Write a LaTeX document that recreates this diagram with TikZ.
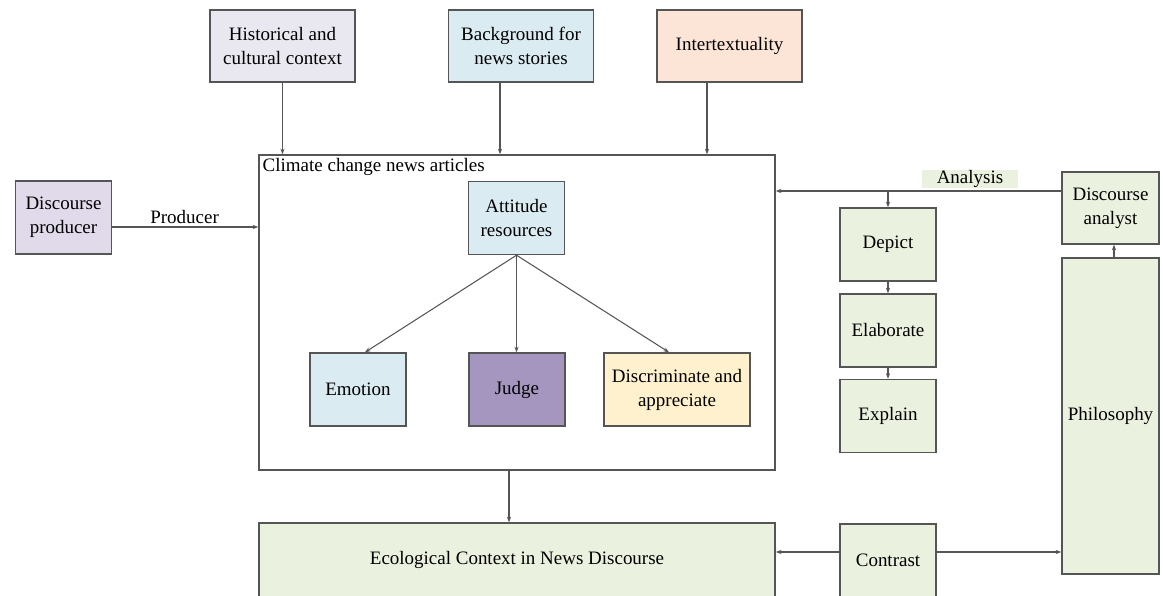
\documentclass[tikz,border=0pt]{standalone}
\usepackage{fontspec}
\setmainfont{Liberation Serif}
\usetikzlibrary{arrows.meta}

\definecolor{lineg}{HTML}{555555}
\definecolor{grayfill}{HTML}{E9E7EF}
\definecolor{bluefill}{HTML}{DAEBF1}
\definecolor{peachfill}{HTML}{FCE5D6}
\definecolor{lilacfill}{HTML}{E1DAEA}
\definecolor{purplefill}{HTML}{A596C0}
\definecolor{yellowfill}{HTML}{FFF1CD}
\definecolor{greenfill}{HTML}{EBF1DF}

\begin{document}
\begin{tikzpicture}[
      x=0.025cm, y=-0.025cm,
      every node/.style={font=\fontsize{13.5}{17}\selectfont, align=center},
      box/.style={draw=lineg, line width=1pt, rectangle, inner sep=2pt},
      wbox/.style={box, minimum width=2.4cm, minimum height=1.825cm},
      lbox/.style={box, minimum width=3.625cm, minimum height=1.8cm},
      arr/.style={draw=lineg, line width=0.75pt, -{Stealth[length=4pt,width=3pt]}}
    ]
    \clip (0,0) rectangle (1163,596);

    % top context boxes
    \node[lbox, fill=grayfill] (hist) at (282.5,46) {Historical and\\cultural context};
    \node[lbox, fill=bluefill] (back) at (521,46) {Background for\\news stories};
    \node[lbox, fill=peachfill] (inter) at (729.5,46) {Intertextuality};

    % news articles frame
    \node[box, minimum width=12.9cm, minimum height=7.875cm] (news) at (517,312.5) {};
    \node[anchor=north west, inner sep=3pt] (newstitle) at (news.north west) {Climate change news articles};

    \node[wbox, fill=lilacfill] (prod) at (63.5,217.5) {Discourse\\producer};

    \node[wbox, fill=bluefill] (att) at (516.5,218) {Attitude\\resources};
    \node[wbox, fill=bluefill] (emo) at (358,389.5) {Emotion};
    \node[wbox, fill=purplefill] (judge) at (517,389.5) {Judge};
    \node[wbox, fill=yellowfill, minimum width=3.65cm] (disc) at (677,389.5) {Discriminate and\\appreciate};

    % bottom row
    \node[box, fill=greenfill, minimum width=12.9cm, minimum height=1.85cm] (eco) at (517,560) {Ecological Context in News Discourse};
    \node[wbox, fill=greenfill] (contr) at (888,560.5) {Contrast};

    % analysis column
    \node[wbox, fill=greenfill] (depict) at (888,244.5) {Depict};
    \node[wbox, fill=greenfill] (elab) at (888,330.5) {Elaborate};
    \node[wbox, fill=greenfill] (expl) at (888,416) {Explain};

    \node[wbox, fill=greenfill, minimum width=2.425cm, minimum height=1.8cm] (analyst) at (1110.5,208) {Discourse\\analyst};
    \node[wbox, fill=greenfill, minimum width=2.425cm, minimum height=7.9cm] (philo) at (1110.5,416) {Philosophy};

    % connectors
    \draw[arr] (hist.south) -- (hist.south |- news.north);
    \draw[arr] (back.south -| 500,0) -- (500,0 |- news.north);
    \draw[arr] (inter.south -| 707,0) -- (707,0 |- news.north);

    \coordinate (prodpt) at (111,227);
    \draw[arr] (prodpt) -- (prodpt -| news.west) node[midway, above=-1pt] (prodlab) {Producer};

    \draw[arr] (att.south) -- (emo.north -| 365,0);
    \draw[arr] (att.south) -- (judge.north -| att.south);
    \draw[arr] (att.south) -- (disc.north -| 669,0);

    \draw[arr] (news.south -| 509,0) -- (eco.north -| 509,0);

    \coordinate (anapt) at (888,191);
    \draw[arr] (analyst.west |- anapt) -- (news.east |- anapt);
    \node[fill=greenfill, inner sep=0pt, minimum width=2.4cm, minimum height=0.36cm] (analab) at (970,179) {Analysis};
    \draw[arr] (anapt) -- (depict.north);
    \draw[arr] (depict.south) -- (elab.north);
    \draw[arr] (elab.south) -- (expl.north);

    \draw[arr] (philo.north -| 1114,0) -- (analyst.south -| 1114,0);

    \draw[arr] (contr.west |- 0,552) -- (eco.east |- 0,552);
    \draw[arr] (contr.east |- 0,552) -- (philo.west |- 0,552);

\end{tikzpicture}
\end{document}
